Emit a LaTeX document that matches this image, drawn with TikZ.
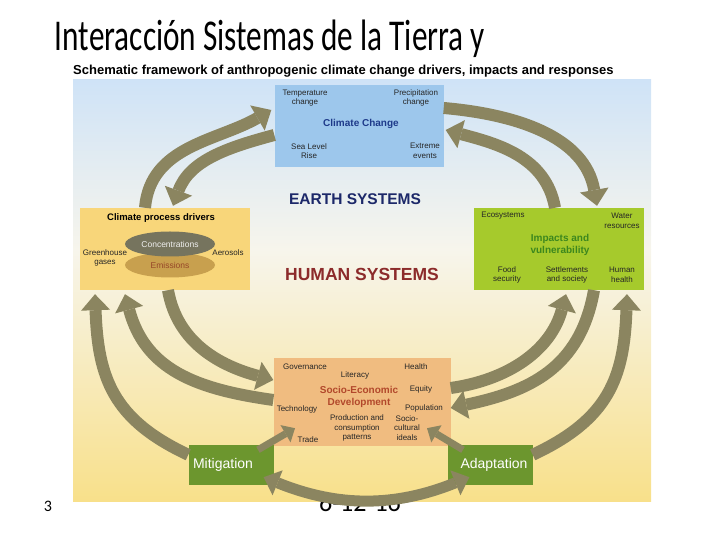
\documentclass[tikz,border=0pt]{standalone}
\usepackage{fontspec}
\setmainfont{Liberation Sans}
\newfontfamily\titlefont{Carlito}
\usetikzlibrary{arrows.meta, shapes.geometric}

\definecolor{arrowcol}{RGB}{139,133,96}
\definecolor{ccblue}{RGB}{157,199,236}
\definecolor{drvyel}{RGB}{248,214,122}
\definecolor{impgreen}{RGB}{166,202,44}
\definecolor{sedtan}{RGB}{240,188,128}
\definecolor{respgreen}{RGB}{108,150,46}
\definecolor{bgblue}{RGB}{207,227,247}
\definecolor{bgmid}{RGB}{247,245,236}
\definecolor{bgyel}{RGB}{248,224,138}
\definecolor{concgray}{RGB}{118,116,94}
\definecolor{emitan}{RGB}{200,160,78}
\definecolor{emitext}{RGB}{150,70,40}
\definecolor{ccname}{RGB}{30,58,138}
\definecolor{earthcol}{RGB}{28,40,105}
\definecolor{humancol}{RGB}{140,43,43}
\definecolor{ivgreen}{RGB}{60,135,30}
\definecolor{sedname}{RGB}{178,72,43}

\begin{document}
\begin{tikzpicture}[x=1pt,y=1pt,
  box/.style={rectangle, inner sep=0pt, minimum width=170pt, minimum height=82pt},
  lbl/.style={font=\fontsize{8}{9.5}\selectfont, align=center, text=black!85, inner sep=0pt},
  bold/.style={font=\bfseries\fontsize{10}{12}\selectfont, align=center, inner sep=0pt},
  resp/.style={rectangle, fill=respgreen, minimum width=85pt, minimum height=40pt},
  resplbl/.style={font=\fontsize{14}{14}\selectfont, text=white, inner sep=0pt},
  blob/.style={ellipse, inner sep=0pt, minimum width=90pt, minimum height=25pt, font=\fontsize{8.5}{9}\selectfont},
  bigarrow/.style={-{Triangle[length=16pt,width=29pt,line width=0pt]}, line width=12pt, color=arrowcol},
  thinarrow/.style={-{Triangle[length=11pt,width=20pt,line width=0pt]}, line width=7pt, color=arrowcol},
  twoway/.style={{Triangle[length=15pt,width=27pt,line width=0pt]}-{Triangle[length=15pt,width=27pt,line width=0pt]}, line width=11pt, color=arrowcol}]

\useasboundingbox (0,0) rectangle (720,540);

\node[font=\titlefont\fontsize{26}{26}\selectfont, anchor=base] (date) at (360,28) {6-12-16};
\node[font=\titlefont\fontsize{16}{16}\selectfont, anchor=base] (num) at (48,28) {3};

\fill[top color=bgblue, bottom color=bgmid] (73,290) rectangle (651,460);
\fill[top color=bgmid, bottom color=bgyel] (73,38) rectangle (651,290.5);

\node[font=\titlefont\fontsize{44}{44}\selectfont, xscale=0.71, transform shape, anchor=base] (title) at (270,489) {Interacción Sistemas de la Tierra y};
\node[font=\bfseries\fontsize{13}{14}\selectfont, anchor=west, inner sep=0pt] (sub) at (73,469) {Schematic framework of anthropogenic climate change drivers, impacts and responses};

\node[box, fill=ccblue, minimum width=169pt] (cc) at (359,414) {};
\node[lbl] (temp) at (305,442) {Temperature\\change};
\node[lbl] (prec) at (416,442) {Precipitation\\change};
\node[bold, text=ccname] (ccname) at (361,416) {Climate Change};
\node[lbl] (slr) at (309,389) {Sea Level\\Rise};
\node[lbl] (ext) at (425,389) {Extreme\\events};

\node[font=\bfseries\fontsize{15.5}{16}\selectfont, text=earthcol] (earth) at (355,341) {EARTH SYSTEMS};
\node[font=\bfseries\fontsize{17.5}{18}\selectfont, text=humancol] (human) at (362,266) {HUMAN SYSTEMS};

\node[box, fill=drvyel] (drv) at (165,291) {};
\node[bold, font=\bfseries\fontsize{9.5}{11}\selectfont] (cpd) at (161,322) {Climate process drivers};
\node[blob, fill=emitan, text=emitext] (emi) at (170,275) {Emissions};
\node[blob, fill=concgray, text=white!88!gray] (conc) at (170,296) {Concentrations};
\node[lbl] (ghg) at (105,282) {Greenhouse\\gases};
\node[lbl] (aer) at (228,287) {Aerosols};

\node[box, fill=impgreen] (imp) at (559,291) {};
\node[lbl] (eco) at (503,324) {Ecosystems};
\node[lbl] (wat) at (622,319) {Water\\resources};
\node[bold, text=ivgreen] (iv) at (560,295) {Impacts and\\vulnerability};
\node[lbl] (food) at (507,265) {Food\\security};
\node[lbl] (sett) at (567,265) {Settlements\\and society};
\node[lbl] (hh) at (622,265) {Human\\health};

\node[box, fill=sedtan, minimum width=177pt, minimum height=88pt] (sed) at (362,138) {};
\node[lbl] (gov) at (305,173) {Governance};
\node[lbl] (lit) at (355,165) {Literacy};
\node[lbl] (hlth) at (416,173) {Health};
\node[bold, text=sedname] (sename) at (359,143) {Socio-Economic\\Development};
\node[lbl] (eq) at (421,151) {Equity};
\node[lbl] (tech) at (297,131) {Technology};
\node[lbl] (pop) at (424,132) {Population};
\node[lbl] (prod) at (357,112) {Production and\\consumption\\patterns};
\node[lbl] (soc) at (407,112) {Socio-\\cultural\\ideals};
\node[lbl] (trade) at (308,100) {Trade};

\node[resp] (mit) at (231,75) {};
\node[resplbl] (mitlbl) at (223,75) {Mitigation};
\node[resp] (ada) at (490,75) {};
\node[resplbl] (adalbl) at (494,75) {Adaptation};

\path[bigarrow]
  ([xshift=-20pt]drv.north) edge[out=85,in=210] ([xshift=-3pt,yshift=16pt]cc.west)
  ([yshift=-9pt]cc.west) edge[out=195,in=70] ([xshift=8pt,yshift=2pt]drv.north)
  ([yshift=18pt]cc.east) edge[out=-5,in=100] ([xshift=38pt,yshift=2pt]imp.north)
  ([xshift=-4pt]imp.north) edge[out=100,in=-15] ([xshift=2pt,yshift=-4pt]cc.east)
  ([yshift=-10pt]mit.north west) edge[out=155,in=-88,looseness=1.15] ([xshift=-70pt,yshift=-4pt]drv.south)
  ([yshift=2pt]sed.west) edge[out=172,in=-75,looseness=1.1] ([xshift=-40pt,yshift=-4pt]drv.south)
  ([xshift=3pt]drv.south) edge[out=-80,in=165] ([yshift=22pt]sed.west)
  ([yshift=14pt]sed.east) edge[out=8,in=-105] ([xshift=7pt,yshift=-4pt]imp.south)
  ([xshift=35pt]imp.south) edge[out=-100,in=12,looseness=1.1] ([yshift=-6pt]sed.east)
  ([yshift=-10pt]ada.north east) edge[out=25,in=-92,looseness=1.15] ([xshift=68pt,yshift=-4pt]imp.south);

\path[thinarrow]
  ([xshift=27pt,yshift=-5pt]mit.north) edge ([xshift=-67pt,yshift=18pt]sed.south)
  ([xshift=-27pt,yshift=-5pt]ada.north) edge ([xshift=65pt,yshift=18pt]sed.south);

\path[twoway]
  ([xshift=-10pt,yshift=8pt]mit.south east) edge[out=-22,in=202] ([xshift=22pt,yshift=8pt]ada.south west);

\end{tikzpicture}
\end{document}
